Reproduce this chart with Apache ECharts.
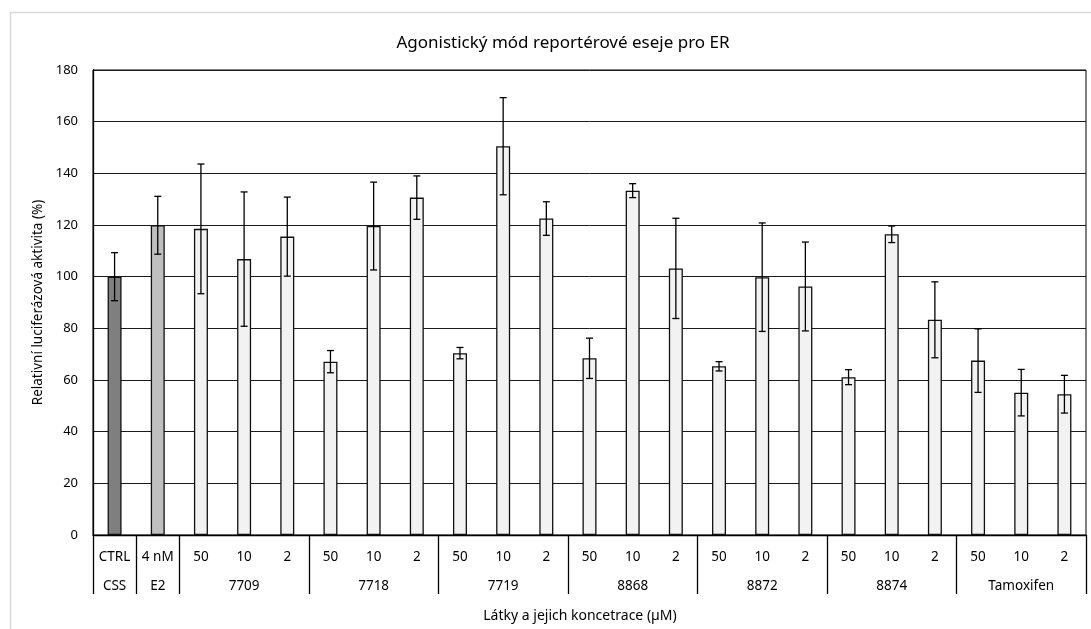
<!DOCTYPE html>
<html>
<head>
<meta charset="utf-8">
<script src="https://cdn.jsdelivr.net/npm/echarts@6/dist/echarts.min.js"></script>
<style>html,body{margin:0;padding:0;background:#fff;}#c{width:1091px;height:629px;}</style>
</head>
<body>
<div id="c"></div>
<script>
// Data
var concentrations = ['CTRL', '4 nM', '50', '10', '2', '50', '10', '2', '50', '10', '2', '50', '10', '2', '50', '10', '2', '50', '10', '2', '50', '10', '2'];
var groupNames = ['CSS', 'E2', '7709', '7718', '7719', '8868', '8872', '8874', 'Tamoxifen'];
var groupSizes = [1, 1, 3, 3, 3, 3, 3, 3, 3];
var means = [100, 119.9, 118.5, 106.8, 115.5, 67.1, 119.6, 130.6, 70.4, 150.5, 122.5, 68.4, 133.3, 103.2, 65.3, 99.8, 96.2, 61.1, 116.4, 83.3, 67.5, 55.1, 54.5];
var errors = [9.3, 11.2, 25.1, 26.0, 15.3, 4.3, 17.0, 8.4, 2.2, 18.8, 6.5, 7.8, 2.7, 19.4, 1.8, 21.0, 17.2, 2.9, 3.2, 14.7, 12.3, 9.0, 7.3];
var yTicks = {min: 0, max: 180, interval: 20};

// Derived structures
var groupStarts = [];
var groupMiddle = {};
var catGroup = [];
(function () {
  var idx = 0;
  for (var g = 0; g < groupSizes.length; g++) {
    groupStarts.push(idx);
    groupMiddle[idx + Math.floor(groupSizes[g] / 2)] = groupNames[g];
    for (var k = 0; k < groupSizes[g]; k++) catGroup.push(g);
    idx += groupSizes[g];
  }
})();
var categories = concentrations.map(function (c, i) { return groupNames[catGroup[i]] + ' ' + c; });
var errData = means.map(function (m, i) { return [i, m - errors[i], m + errors[i]]; });

var FONT = 'Noto Sans';
var chart = echarts.init(document.getElementById('c'), null, {renderer: 'canvas'});
chart.setOption({
  animation: false,
  backgroundColor: '#fff',
  title: {
    text: 'Agonistický mód reportérové eseje pro ER',
    left: 558, top: 30, textAlign: 'center',
    textStyle: {fontFamily: FONT, fontSize: 17, fontWeight: 'normal', color: '#000'}
  },
  graphic: [{
    type: 'rect', silent: true, z: -10,
    shape: {x: 10.5, y: 12.5, width: 1200, height: 800},
    style: {fill: 'none', stroke: '#d9d9d9', lineWidth: 1.5}
  }],
  grid: {left: 93, right: 5, top: 70, bottom: 94, show: true, borderColor: '#000', borderWidth: 1, backgroundColor: 'transparent'},
  xAxis: {
    type: 'category',
    data: categories,
    boundaryGap: true,
    name: 'Látky a jejich koncetrace (µM)',
    nameLocation: 'middle',
    nameGap: 74,
    nameTextStyle: {fontFamily: FONT, fontSize: 14, color: '#000', padding: [0, 19, 0, 0]},
    axisLine: {show: true, lineStyle: {color: '#000', width: 1.3}},
    axisTick: {
      show: true, length: 59, inside: false,
      interval: function (index) { return groupStarts.indexOf(index) >= 0; },
      lineStyle: {color: '#000', width: 1.3}
    },
    axisLabel: {
      interval: 0, margin: 7, fontFamily: FONT, fontSize: 13.5, color: '#000', lineHeight: 29.5,
      formatter: function (v, i) {
        return concentrations[i] + '\n' + (groupMiddle[i] !== undefined ? groupMiddle[i] : ' ');
      }
    },
    splitLine: {show: false}
  },
  yAxis: {
    type: 'value',
    min: yTicks.min, max: yTicks.max, interval: yTicks.interval,
    name: 'Relativní luciferázová aktivita (%)',
    nameLocation: 'middle',
    nameGap: 45,
    nameRotate: 90,
    nameTextStyle: {fontFamily: FONT, fontSize: 13.5, color: '#000'},
    axisLine: {show: true, lineStyle: {color: '#000', width: 1.3}},
    axisTick: {show: false},
    axisLabel: {margin: 15, fontFamily: FONT, fontSize: 13, color: '#000'},
    splitLine: {show: true, lineStyle: {color: '#1a1a1a', width: 1}}
  },
  series: [{
    type: 'bar',
    data: means,
    barWidth: 14,
    itemStyle: {
      color: function (p) { return p.dataIndex === 0 ? '#7f7f7f' : (p.dataIndex === 1 ? '#bfbfbf' : '#f2f2f2'); },
      borderColor: '#111', borderWidth: 1.3
    },
    z: 2
  }, {
    type: 'custom',
    data: errData,
    z: 3,
    renderItem: function (params, api) {
      var x = api.value(0);
      var lo = api.coord([x, api.value(1)]);
      var hi = api.coord([x, api.value(2)]);
      var hw = 3.5;
      var st = {stroke: '#000', lineWidth: 1.3};
      return {type: 'group', children: [
        {type: 'line', shape: {x1: hi[0], y1: hi[1], x2: lo[0], y2: lo[1]}, style: st},
        {type: 'line', shape: {x1: hi[0] - hw, y1: hi[1], x2: hi[0] + hw, y2: hi[1]}, style: st},
        {type: 'line', shape: {x1: lo[0] - hw, y1: lo[1], x2: lo[0] + hw, y2: lo[1]}, style: st}
      ]};
    }
  }]
});
</script>
</body>
</html>
